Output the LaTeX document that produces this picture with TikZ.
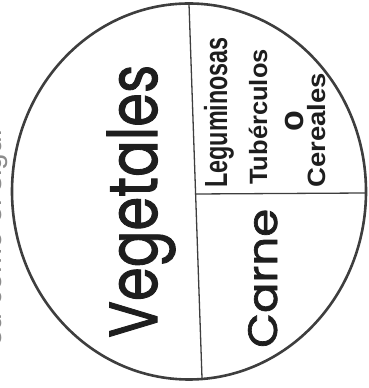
\documentclass[tikz,border=0pt]{standalone}
\usepackage{fontspec}
\setmainfont{Liberation Sans}
\newfontfamily\gothicfont[FakeBold=1.6]{Poppins}
\usetikzlibrary{positioning}
\definecolor{linecolor}{RGB}{62, 62, 62}
\definecolor{labelcolor}{RGB}{30, 30, 30}
\definecolor{scancolor}{RGB}{140, 140, 140}
\tikzset{
rotlabel/.style={
  rotate=90,
  anchor=base west,
  inner sep=0pt,
  text=labelcolor
},
grouplabel/.style={
  rotlabel,
  font=\gothicfont\fontsize{68}{68}\selectfont
},
itemlabel/.style={
  rotlabel,
  font=\bfseries\fontsize{25}{25}\selectfont
},
rim/.style={
  draw=linecolor,
  line width=2.6pt
},
divider/.style={
  draw=linecolor,
  line width=1.3pt
}
}

\begin{document}
\begin{tikzpicture}[x=1pt, y=1pt]
        \clip (0, 0) rectangle (368, 388);

        % cut text of the scanned page
        \node[rotlabel, anchor=base east, text=scancolor, font=\fontsize{30}{30}\selectfont] (scan) at (2, 258) {ed como el sigui};

        % plate and its parts
        \draw[rim] (189, 196.5) ellipse [x radius=177, y radius=188];
        \coordinate (top) at (189, 384);
        \coordinate (bottom) at (202, 10);
        \coordinate (mid) at (195, 194);
        \coordinate (edge) at (366, 195);
        \draw[divider] (top) -- (bottom);
        \draw[divider] (mid) -- (edge);

        % group names
        \node[grouplabel] (veg) at (157, 50) {\scalebox{0.8}[1]{Vegetales}};
        \node[grouplabel, font=\gothicfont\fontsize{41}{41}\selectfont] (meat) at (277, 40) {\scalebox{1.1}[1]{Carne}};

        % right upper part
        \node[itemlabel, font=\bfseries\fontsize{32}{32}\selectfont] (legume) at (227, 200) {\scalebox{0.73}[1]{Leguminosas}};
        \node[itemlabel] (tuber) at (267, 203) {\scalebox{1.02}[1]{Tubérculos}};
        \node[itemlabel, font=\bfseries\fontsize{34}{34}\selectfont, anchor=center] (or) at (295, 267) {o};
        \node[itemlabel] (cereal) at (325, 200) {\scalebox{1.1}[1]{Cereales}};
      \end{tikzpicture}
\end{document}
